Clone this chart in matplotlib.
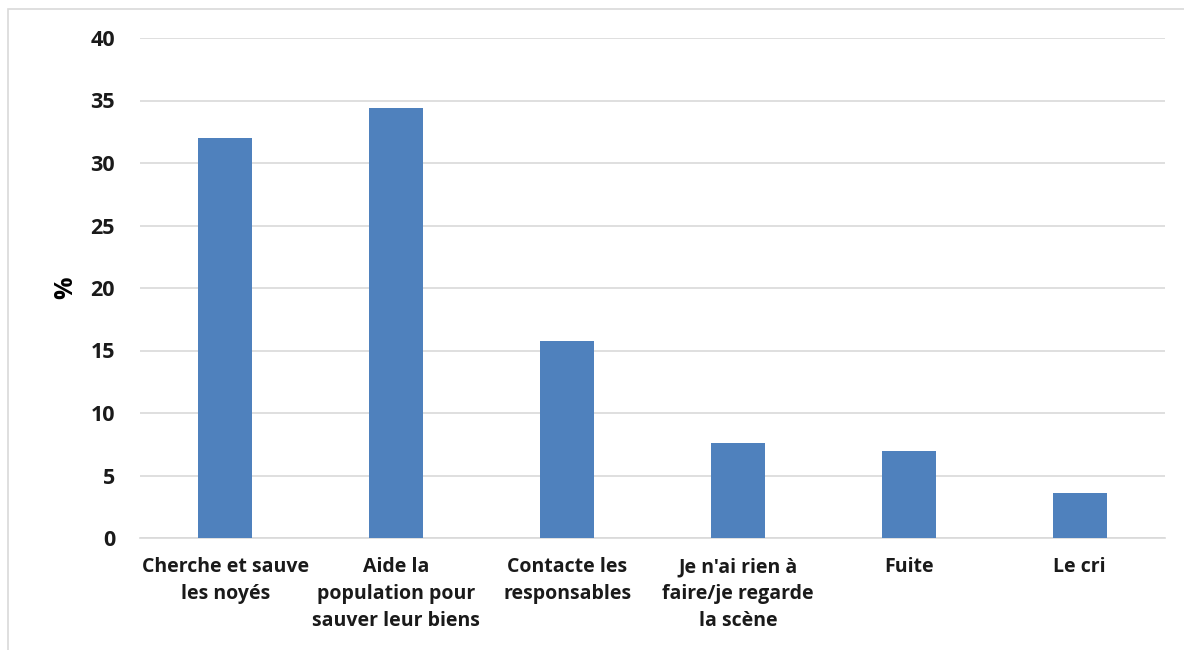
import matplotlib
matplotlib.use("Agg")
import matplotlib.pyplot as plt
from matplotlib.patches import Rectangle

categories = ["Cherche et sauve\nles noyés",
              "Aide la\npopulation pour\nsauver leur biens",
              "Contacte les\nresponsables",
              "Je n'ai rien à\nfaire/je regarde\nla scène",
              "Fuite",
              "Le cri"]
values = [32.0, 34.4, 15.8, 7.6, 7.0, 3.6]
yticks = [0, 5, 10, 15, 20, 25, 30, 35, 40]

plt.rcParams['font.family'] = ['Open Sans', 'DejaVu Sans']

fig = plt.figure(figsize=(11.84, 6.5), dpi=100)
fig.patches.append(Rectangle((8/1184, -0.1), 1.2, 1.1 - 9/650, transform=fig.transFigure,
                             fill=False, edgecolor='#D9D9D9', linewidth=1.2))
ax = fig.add_axes([140/1184, 1 - 538/650, 1025/1184, 500/650])

x = list(range(len(categories)))
ax.bar(x, values, width=0.316, color='#4F81BD', zorder=3)
ax.set_xlim(-0.5, len(categories) - 0.5)
ax.set_ylim(0, 40)
ax.set_yticks(yticks)
ax.set_yticklabels([str(t) for t in yticks], fontsize=15.5, fontweight='bold', color='#1a1a1a')
ax.set_xticks(x)
ax.set_xticklabels(categories, fontsize=14, fontweight='bold', color='#1a1a1a', linespacing=1.45)
ax.tick_params(axis='both', length=0)
ax.tick_params(axis='y', pad=18)
ax.tick_params(axis='x', pad=14)
ax.grid(axis='y', color='#D9D9D9', linewidth=1.2, zorder=0)
for s in ['top', 'right', 'left']:
    ax.spines[s].set_visible(False)
ax.spines['bottom'].set_color('#D9D9D9')
ax.spines['bottom'].set_linewidth(1.2)
ax.set_ylabel('%', fontsize=18, fontweight='bold')
ax.yaxis.set_label_coords(-0.06, 0.5)

fig.savefig('out.png', dpi=100)
